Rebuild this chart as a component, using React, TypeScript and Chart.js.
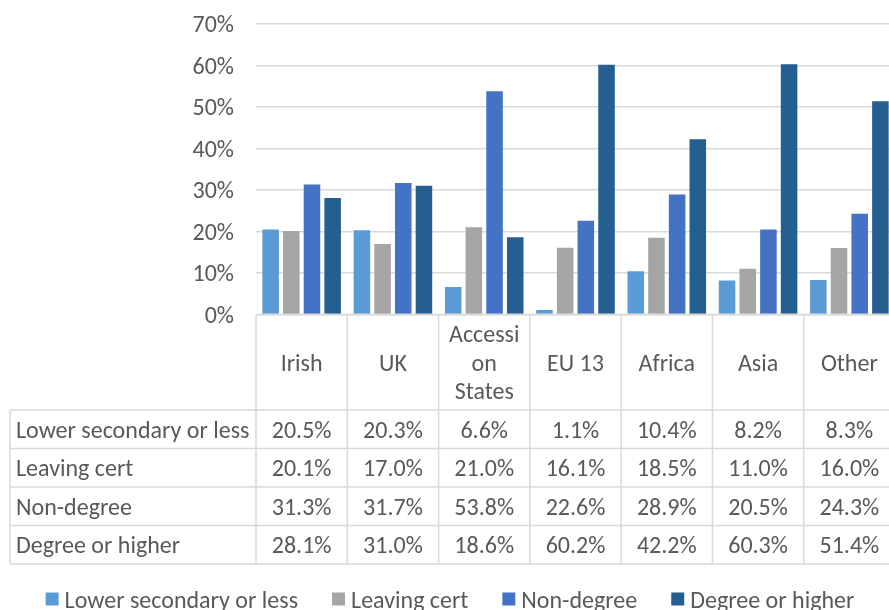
import React, { useEffect, useRef } from "react";
import { Chart, registerables } from "chart.js";

Chart.register(...registerables);

const categories = ["Irish", "UK", "Accession States", "EU 13", "Africa", "Asia", "Other"];
const headerLines = [["Irish"], ["UK"], ["Accessi", "on", "States"], ["EU 13"], ["Africa"], ["Asia"], ["Other"]];
const seriesNames = ["Lower secondary or less", "Leaving cert", "Non-degree", "Degree or higher"];
const lowerSecondary = [20.5, 20.3, 6.6, 1.1, 10.4, 8.2, 8.3];
const leavingCert = [20.1, 17.0, 21.0, 16.1, 18.5, 11.0, 16.0];
const nonDegree = [31.3, 31.7, 53.8, 22.6, 28.9, 20.5, 24.3];
const degreeOrHigher = [28.1, 31.0, 18.6, 60.2, 42.2, 60.3, 51.4];
const seriesColors = ["#5B9BD5", "#A5A5A5", "#4472C4", "#255E91"];
const yMax = 70;
const yStep = 10;

const FONT = "Carlito, Lato, sans-serif";
const FS = 24;
const TEXT = "#595959";
const LINE = "#D9D9D9";
const TEXT_DY = 2.5;

const allSeries = [lowerSecondary, leavingCert, nonDegree, degreeOrHigher];

const tablePlugin = {
  id: "dataTable",
  afterDraw(chart: any) {
    const { ctx, chartArea } = chart;
    const n = categories.length;
    const catW = (chartArea.right - chartArea.left) / n;
    const top = chartArea.bottom;
    const headerBottom = top + 95.5;
    const rowH = 38.5;
    const tableLeft = 10;
    const tableBottom = headerBottom + rowH * allSeries.length;
    const xs = chart.scales.x;
    ctx.save();
    ctx.strokeStyle = LINE;
    ctx.lineWidth = 1.5;
    ctx.beginPath();
    ctx.moveTo(chartArea.left, top);
    ctx.lineTo(chartArea.right, top);
    for (let r = 0; r <= allSeries.length; r++) {
      const y = headerBottom + r * rowH;
      ctx.moveTo(tableLeft, y);
      ctx.lineTo(chartArea.right, y);
    }
    for (let i = 0; i <= n; i++) {
      const x = chartArea.left + i * catW;
      ctx.moveTo(x, top);
      ctx.lineTo(x, tableBottom);
    }
    ctx.moveTo(tableLeft, headerBottom);
    ctx.lineTo(tableLeft, tableBottom);
    ctx.stroke();

    ctx.fillStyle = TEXT;
    ctx.font = `${FS}px ${FONT}`;
    ctx.textBaseline = "middle";
    ctx.textAlign = "center";
    const headerMid = (top + headerBottom) / 2 + TEXT_DY;
    const lh = 28.5;
    headerLines.forEach((lines, i) => {
      const cx = xs.getPixelForValue(i);
      lines.forEach((t, k) => {
        const y = headerMid + (k - (lines.length - 1) / 2) * lh;
        ctx.fillText(t, cx, y);
      });
    });
    allSeries.forEach((vals, r) => {
      const cy = headerBottom + r * rowH + rowH / 2 + TEXT_DY;
      ctx.textAlign = "left";
      ctx.fillText(seriesNames[r], tableLeft + 6, cy);
      ctx.textAlign = "center";
      vals.forEach((v, i) => {
        ctx.fillText(v.toFixed(1) + "%", xs.getPixelForValue(i), cy);
      });
    });

    const box = 13;
    const gapText = 6;
    const gapItem = 34;
    const widths = seriesNames.map((s) => ctx.measureText(s).width);
    const total = widths.reduce((a, w) => a + box + gapText + w, 0) + gapItem * (seriesNames.length - 1);
    let lx = chart.width / 2 - total / 2;
    const ly = 599;
    ctx.textAlign = "left";
    seriesNames.forEach((s, i) => {
      ctx.fillStyle = seriesColors[i];
      ctx.fillRect(lx, ly - box / 2, box, box);
      ctx.fillStyle = TEXT;
      ctx.fillText(s, lx + box + gapText, ly + TEXT_DY);
      lx += box + gapText + widths[i] + gapItem;
    });
    ctx.restore();
  },
};

export default function App() {
  const ref = useRef<HTMLCanvasElement>(null);
  useEffect(() => {
    if (!ref.current) return;
    const chart = new Chart(ref.current, {
      type: "bar",
      data: {
        labels: categories,
        datasets: seriesNames.map((name, i) => ({
          label: name,
          data: allSeries[i],
          backgroundColor: seriesColors[i],
          categoryPercentage: 0.906,
          barPercentage: 0.8,
        })),
      },
      options: {
        responsive: false,
        animation: false,
        devicePixelRatio: 1,
        layout: { padding: { left: 0, right: 5, top: 24, bottom: 295.5 } },
        plugins: { legend: { display: false }, tooltip: { enabled: false } },
        scales: {
          x: { display: false },
          y: {
            min: 0,
            max: yMax,
            afterFit: (s: any) => {
              s.width = 256;
              s.paddingTop = 0;
              s.paddingBottom = 0;
            },
            ticks: {
              stepSize: yStep,
              padding: 22,
              labelOffset: 2,
              color: TEXT,
              font: { family: FONT, size: FS },
              callback: (v: any) => v + "%",
            },
            grid: { color: LINE, lineWidth: 1.5, drawTicks: false },
            border: { display: false },
          },
        },
      },
      plugins: [tablePlugin],
    });
    return () => chart.destroy();
  }, []);
  return (
    <div style={{ position: "absolute", left: 0, top: 0, width: 889, height: 610, overflow: "hidden", background: "#fff" }}>
      <canvas ref={ref} width={900} height={610} style={{ display: "block" }} />
    </div>
  );
}
